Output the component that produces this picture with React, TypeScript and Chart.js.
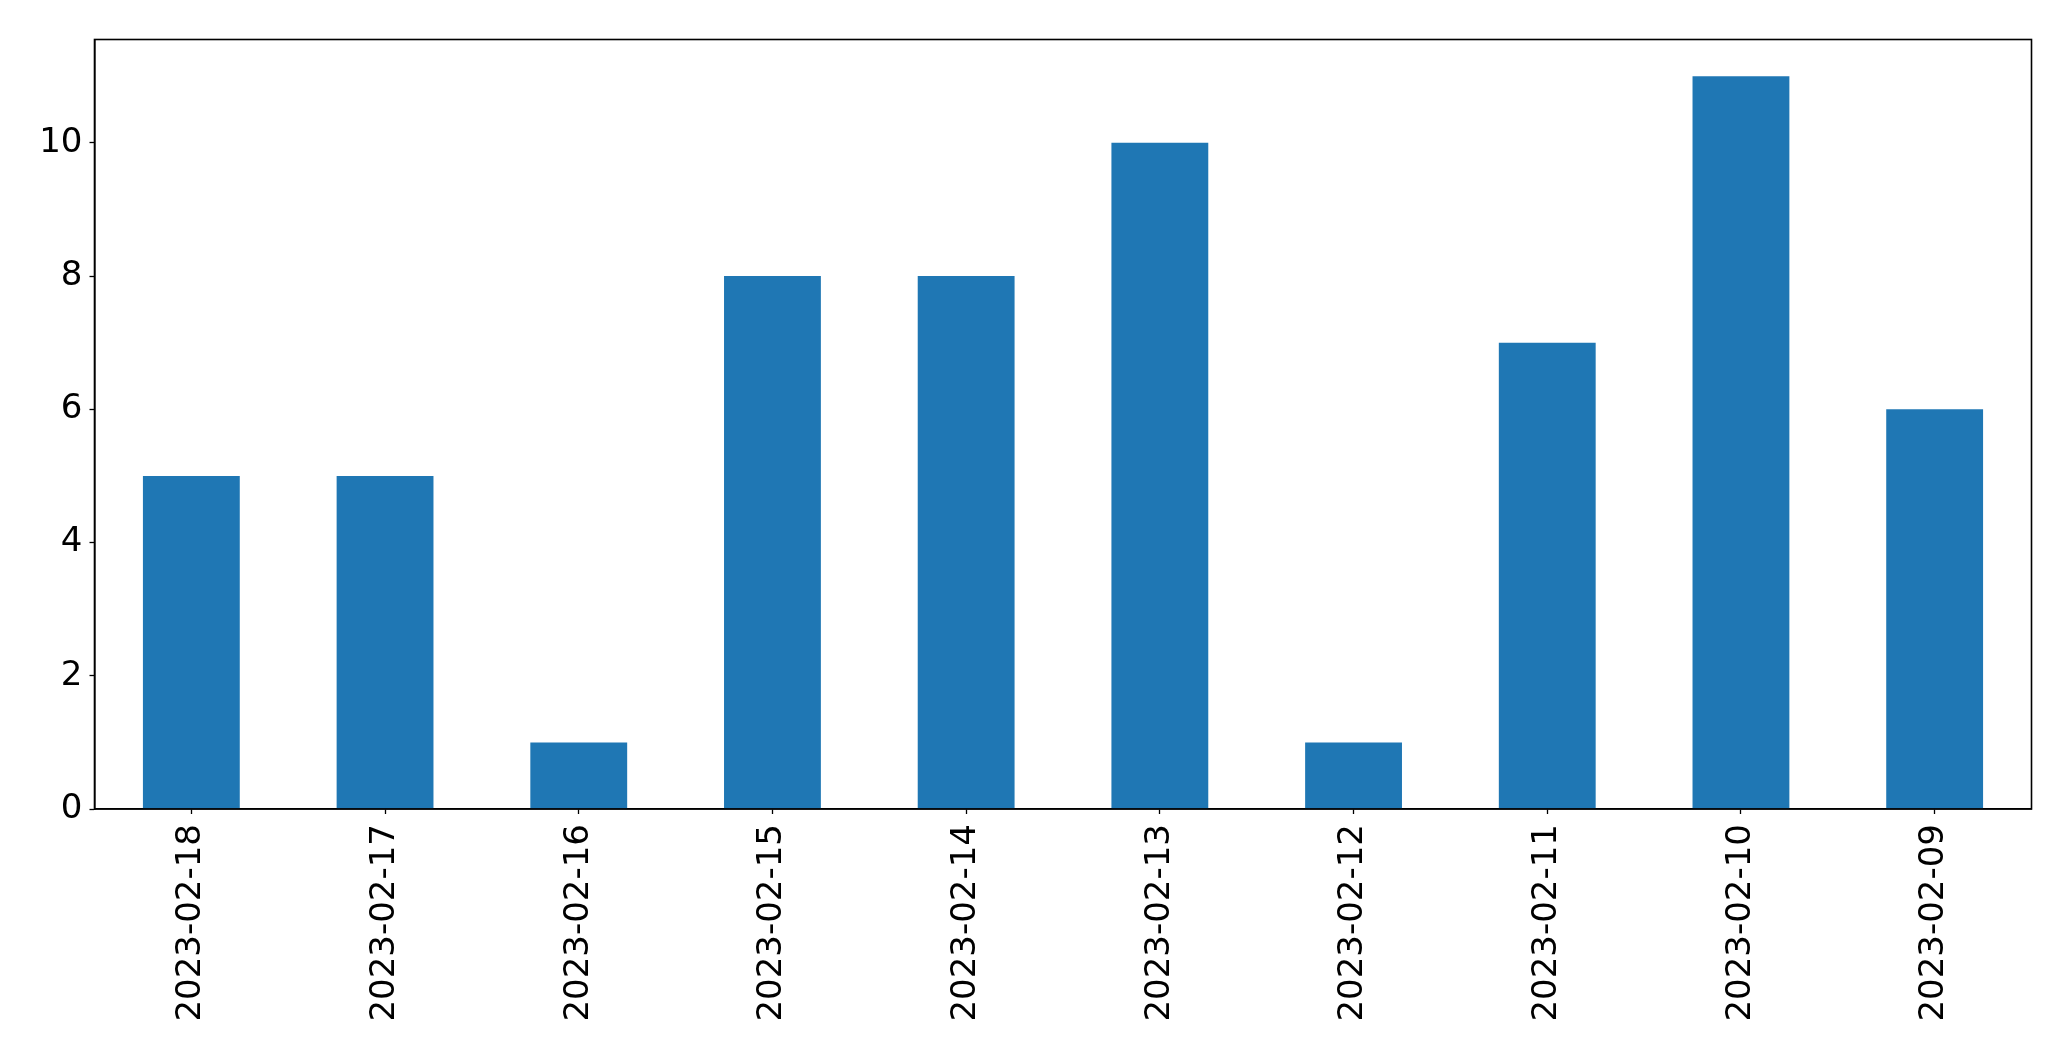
import React, { useEffect, useRef } from "react";
import { Chart, registerables } from "chart.js";

Chart.register(...registerables);

const categories = [
  "2023-02-18", "2023-02-17", "2023-02-16", "2023-02-15", "2023-02-14",
  "2023-02-13", "2023-02-12", "2023-02-11", "2023-02-10", "2023-02-09",
];
const counts = [5, 5, 1, 8, 8, 10, 1, 7, 11, 6];
const yTicks = [0, 2, 4, 6, 8, 10];

const W = 2071;
const H = 1061;
const AREA = { left: 94.5, top: 39.5, right: 2031.5, bottom: 809 };

const frame = {
  id: "frame",
  afterDraw(chart: any) {
    const { ctx, chartArea } = chart;
    ctx.save();
    ctx.strokeStyle = "#000";
    ctx.lineWidth = 1.6;
    ctx.strokeRect(chartArea.left, chartArea.top, chartArea.right - chartArea.left, chartArea.bottom - chartArea.top);
    ctx.restore();
  },
};

export default function App() {
  const ref = useRef<HTMLCanvasElement | null>(null);
  useEffect(() => {
    const font = { family: "DejaVu Sans", size: 34 };
    const chart = new Chart(ref.current!, {
      type: "bar",
      data: {
        labels: categories,
        datasets: [
          {
            data: counts,
            backgroundColor: "#1f77b4",
            barPercentage: 0.5,
            categoryPercentage: 1,
          },
        ],
      },
      options: {
        animation: false,
        responsive: false,
        maintainAspectRatio: false,
        devicePixelRatio: 1,
        layout: { padding: { top: AREA.top, right: W - AREA.right, left: 0, bottom: 0 } },
        plugins: { legend: { display: false }, tooltip: { enabled: false } },
        scales: {
          x: {
            grid: { drawOnChartArea: false, offset: false, tickLength: 5, tickColor: "#000", tickWidth: 1.3 },
            border: { color: "#000", width: 1.6 },
            ticks: { color: "#000", font, minRotation: 90, maxRotation: 90, padding: 10, autoSkip: false },
            afterFit(scale: any) {
              scale.height = H - AREA.bottom;
            },
          },
          y: {
            min: 0,
            max: 11.55,
            grid: { drawOnChartArea: false, tickLength: 5, tickColor: "#000", tickWidth: 1.3 },
            border: { color: "#000", width: 1.6 },
            ticks: { color: "#000", font, stepSize: 2, includeBounds: false, padding: 7 },
            afterBuildTicks(scale: any) {
              scale.ticks = yTicks.map((v) => ({ value: v }));
            },
            afterFit(scale: any) {
              scale.width = AREA.left;
            },
          },
        },
      },
      plugins: [frame],
    });
    return () => chart.destroy();
  }, []);
  return (
    <div style={{ position: "absolute", left: 0, top: 0, width: W, height: H, background: "#fff" }}>
      <canvas ref={ref} width={W} height={H} style={{ width: W, height: H }} />
    </div>
  );
}
